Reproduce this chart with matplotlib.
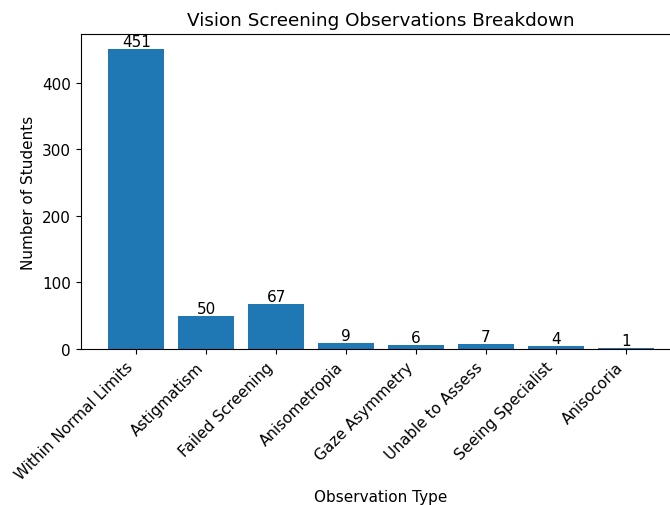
import matplotlib
matplotlib.use("Agg")
import matplotlib.pyplot as plt

categories = ["Within Normal Limits", "Astigmatism", "Failed Screening", "Anisometropia",
              "Gaze Asymmetry", "Unable to Assess", "Seeing Specialist", "Anisocoria"]
counts = [451, 50, 67, 9, 6, 7, 4, 1]

# slightly larger than default text throughout
plt.rcParams.update({
    "font.size": 11,
    "axes.titlesize": 13.2,
    "axes.labelsize": 11,
    "xtick.labelsize": 11,
    "ytick.labelsize": 11,
    "xtick.major.size": 3.85,
    "ytick.major.size": 3.85,
    "axes.titlepad": 6.6,
    "axes.labelpad": 4.4,
})

fig = plt.figure(figsize=(6.7, 5.06), dpi=100)
ax = fig.add_axes([81 / 670, 156 / 506, 600 / 670, 315 / 506])

bars = ax.bar(categories, counts, color="#1f77b4")
for b, v in zip(bars, counts):
    ax.text(b.get_x() + b.get_width() / 2, v, str(v), ha="center", va="bottom", fontsize=11)

ax.set_title("Vision Screening Observations Breakdown")
ax.set_xlabel("Observation Type")
ax.set_ylabel("Number of Students")
plt.setp(ax.get_xticklabels(), rotation=45, ha="right")

fig.savefig("out.png", dpi=100)
